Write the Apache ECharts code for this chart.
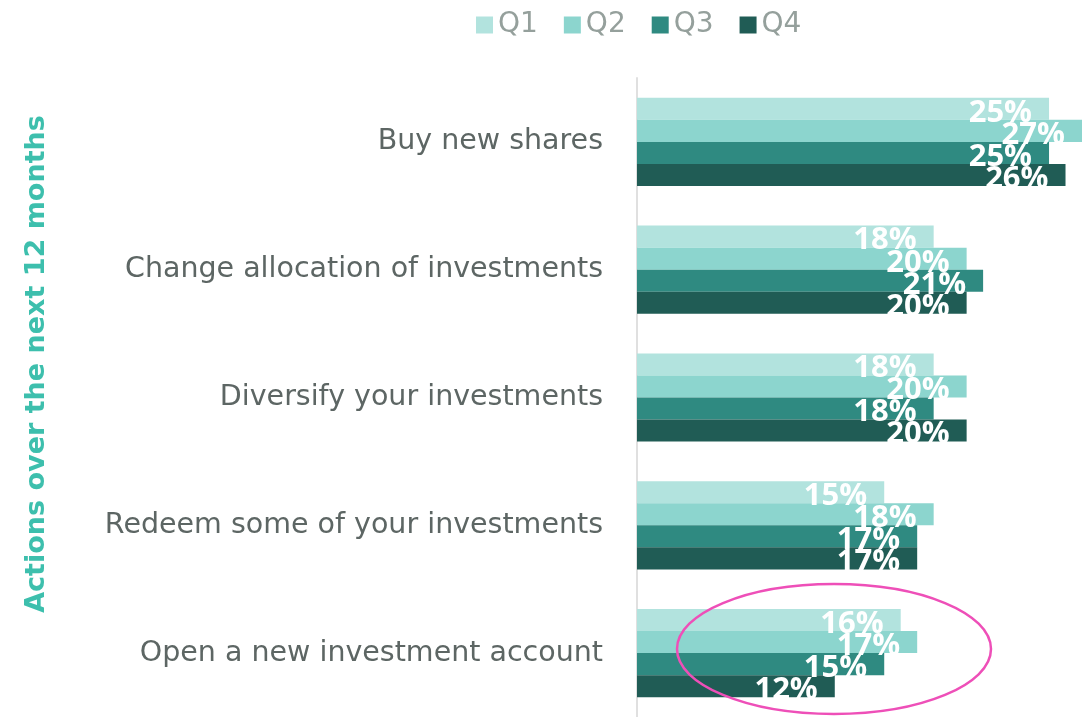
<!DOCTYPE html>
<html>
<head>
<meta charset="utf-8">
<script src="https://cdn.jsdelivr.net/npm/echarts@6/dist/echarts.min.js"></script>
<style>
  html, body { margin: 0; padding: 0; background: #fff; }
  #chart { width: 1082px; height: 717px; }
</style>
</head>
<body>
<div id="chart"></div>
<script>
// actions, top to bottom
const categories = [
  'Buy new shares',
  'Change allocation of investments',
  'Diversify your investments',
  'Redeem some of your investments',
  'Open a new investment account'
]
const quarters = ['Q1', 'Q2', 'Q3', 'Q4']
const q1 = [25, 18, 18, 15, 16]
const q2 = [27, 20, 20, 18, 17]
const q3 = [25, 21, 18, 17, 15]
const q4 = [26, 20, 20, 17, 12]
const colors = ['#b2e3de', '#8cd5ce', '#2f8a81', '#205c55']

const chart = echarts.init(document.getElementById('chart'))

const seriesData = [q1, q2, q3, q4]

chart.setOption({
  animation: false,
  color: colors,
  legend: {
    top: 6,
    left: 471,
    itemWidth: 17,
    itemHeight: 17,
    itemGap: 26,
    icon: 'rect',
    textStyle: { color: '#95a09c', fontSize: 28, fontFamily: 'DejaVu Sans' },
    data: quarters
  },
  grid: {
    left: 637,
    top: 78,
    width: 445,
    height: 640
  },
  xAxis: {
    type: 'value',
    min: 0,
    max: 27,
    show: false
  },
  yAxis: {
    type: 'category',
    inverse: true,
    data: categories,
    axisLine: { lineStyle: { color: '#e0e0e0', width: 2 } },
    axisTick: { length: 9, lineStyle: { color: '#dcdcdc', width: 2 } },
    axisLabel: {
      color: '#5d6664',
      fontSize: 28.5,
      fontFamily: 'DejaVu Sans',
      margin: 34
    }
  },
  graphic: [
    {
      type: 'text',
      x: 37,
      y: 364,
      rotation: Math.PI / 2,
      style: {
        text: 'Actions over the next 12 months',
        fill: '#3dbfad',
        font: 'bold 27px "DejaVu Sans"',
        align: 'center',
        verticalAlign: 'middle'
      }
    },
    {
      type: 'ellipse',
      shape: { cx: 834, cy: 649, rx: 157, ry: 65 },
      style: { fill: 'none', stroke: '#ee4fb8', lineWidth: 2.5 },
      z: 10
    }
  ],
  series: quarters.map((q, i) => ({
    name: q,
    type: 'bar',
    data: seriesData[i],
    barCategoryGap: '31%',
    barGap: '0%',
    label: {
      show: true,
      position: 'insideRight',
      offset: [-12, 4],
      formatter: '{c}%',
      color: '#fff',
      fontSize: 31,
      fontWeight: 'bold',
      fontFamily: 'Open Sans'
    }
  }))
})
</script>
</body>
</html>
